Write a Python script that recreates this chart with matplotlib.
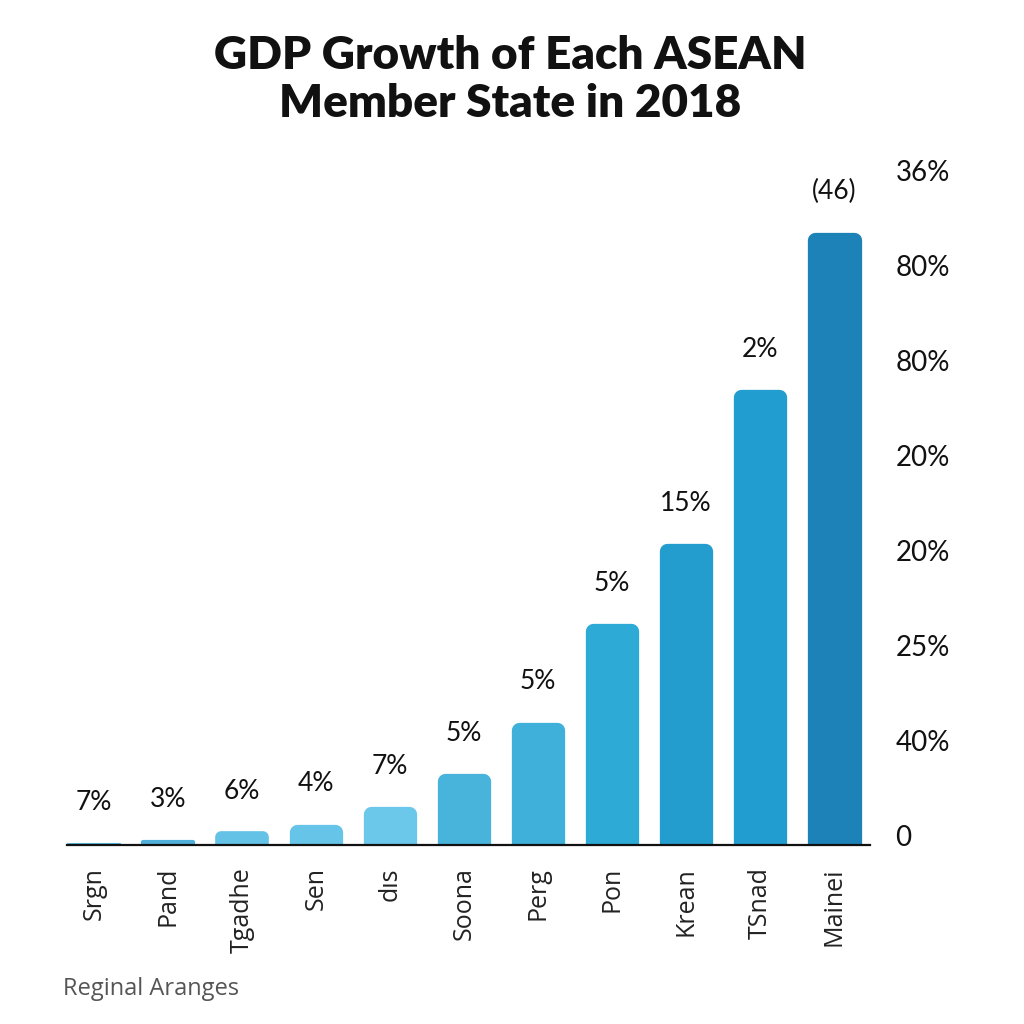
import matplotlib.pyplot as plt
import numpy as np

# Daten
countries = ['Srgn', 'Pand', 'Tgadhe', 'Sen', 'dıs', 'Soona', 'Perg', 'Pon', 'Krean', 'TSnad', 'Mainei']
growth = [0.2, 0.5, 1.4, 2.2, 4.0, 7.5, 12.9, 23.3, 31.7, 47.9, 64.5]
bar_labels = ['7%', '3%', '6%', '4%', '7%', '5%', '5%', '5%', '15%', '2%', '(46)']
bar_colors = ['#58badf', '#4fb0d9', '#64c2e6', '#66c4e8', '#6cc8ea', '#48b4dc',
              '#3fb0da', '#2eaad6', '#239dcd', '#219ecf', '#1d82b8']
tick_pos = [1, 11, 21, 31, 41, 51, 61, 71]
tick_labels = ['0', '40%', '25%', '20%', '20%', '80%', '80%', '36%']

fig = plt.figure(figsize=(10.24, 10.24), dpi=100)
fig.patch.set_facecolor('white')
ax = fig.add_axes([0.065, 0.175, 0.785, 0.668])
px_per_unit = 0.668 * 1024 / 72

x = np.arange(len(countries))
# abgerundete Ecken ueber dicke Kante mit runder Verbindung
for xi, v, c in zip(x, growth, bar_colors):
    lw = min(11, max(1.5, v * 6))
    half = lw / 72 * 100 / 2 / px_per_unit
    ax.bar(xi, max(v - half, 0.05), width=0.73 - lw / 72 * 100 / 74, color=c, edgecolor=c,
           linewidth=lw, joinstyle='round', zorder=2)

for xi, v, lab in zip(x, growth, bar_labels):
    ax.annotate(lab, (xi, v), xytext=(0, 20), textcoords='offset points',
                ha='center', va='bottom', fontsize=19, family='Lato', color='#111111')

ax.set_xlim(-0.37, 10.49)
ax.set_ylim(0, 72)
ax.set_xticks(x)
ax.set_xticklabels(countries, rotation=90, fontsize=18, family='Open Sans', color='#222222')
ax.tick_params(axis='x', length=0, pad=16)

ax.yaxis.tick_right()
ax.set_yticks(tick_pos)
ax.set_yticklabels(tick_labels, fontsize=20, family='Lato', color='#111111')
ax.tick_params(axis='y', length=0, pad=18)

for s in ['top', 'left', 'right']:
    ax.spines[s].set_visible(False)
ax.spines['bottom'].set_linewidth(1.6)
ax.spines['bottom'].set_color('#111111')
ax.spines['bottom'].set_zorder(3)

fig.text(0.498, 0.922, 'GDP Growth of Each ASEAN\nMember State in 2018', ha='center', va='center',
         fontsize=33, fontweight='heavy', family='Lato', linespacing=1.2, color='#111111')
fig.text(0.062, 0.034, 'Reginal Aranges', ha='left', va='center', fontsize=17,
         family='Open Sans', color='#555555')

plt.savefig('out.png', dpi=100)
